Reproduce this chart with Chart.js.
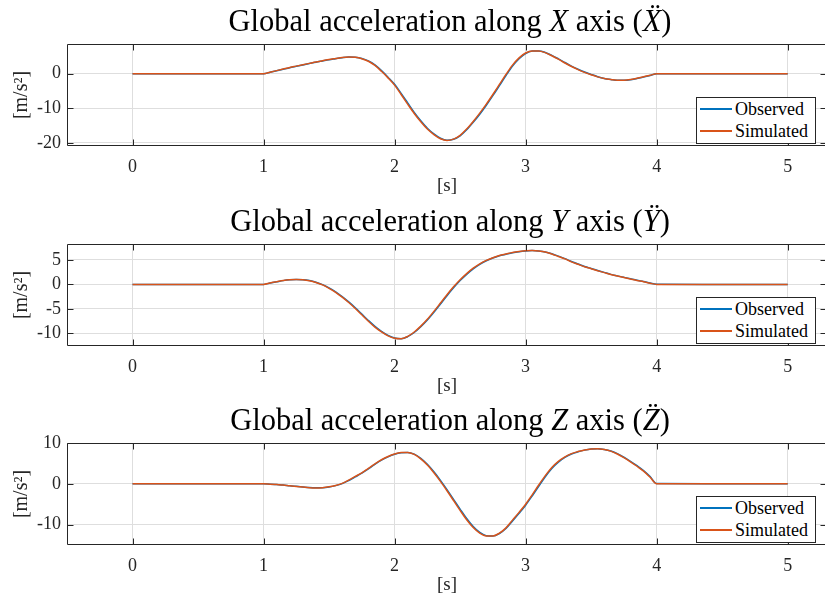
<!DOCTYPE html>
<html>
<head>
<meta charset="utf-8">
<script src="https://cdn.jsdelivr.net/npm/chart.js@4.4.1/dist/chart.umd.min.js"></script>
<style>
  body { margin: 0; width: 825px; height: 597px; overflow: hidden; background: #fff; position: relative; font-family: 'Liberation Serif', serif; }
  .panel { position: absolute; left: 0; width: 830px; height: 200px; }
  .panel canvas { position: absolute; left: 0; top: 0; }
  .title { position: absolute; left: 67px; width: 766px; top: 6px; text-align: center; font-size: 30.5px; line-height: 1; color: #000; white-space: nowrap; }
  .legend { position: absolute; left: 696px; top: 97px; width: 118px; height: 45px; border: 1px solid #262626; background: #fff; font-size: 18px; color: #000; }
  .legend div { height: 22px; display: flex; align-items: center; }
  .legend .ln { display: inline-block; width: 32px; height: 1.6px; margin: 0 3px 0 3px; }
</style>
</head>
<body>
<div class="panel" style="top:0px">
  <canvas id="chartX" width="830" height="200"></canvas>
  <div class="title">Global acceleration along <i>X</i> axis (<i>X&#776;</i>)</div>
  <div class="legend"><div><span class="ln" style="background:#0072BD"></span>Observed</div><div><span class="ln" style="background:#D95319"></span>Simulated</div></div>
</div>
<div class="panel" style="top:200px">
  <canvas id="chartY" width="830" height="200"></canvas>
  <div class="title">Global acceleration along <i>Y</i> axis (<i>Y&#776;</i>)</div>
  <div class="legend"><div><span class="ln" style="background:#0072BD"></span>Observed</div><div><span class="ln" style="background:#D95319"></span>Simulated</div></div>
</div>
<div class="panel" style="top:399px">
  <canvas id="chartZ" width="830" height="200"></canvas>
  <div class="title">Global acceleration along <i>Z</i> axis (<i>Z&#776;</i>)</div>
  <div class="legend"><div><span class="ln" style="background:#0072BD"></span>Observed</div><div><span class="ln" style="background:#D95319"></span>Simulated</div></div>
</div>

<script>
// time [s]
const timeS = [0, 0.5,
  1.00, 1.05, 1.10, 1.15, 1.20, 1.25, 1.30, 1.35, 1.40, 1.45,
  1.50, 1.55, 1.60, 1.65, 1.70, 1.75, 1.80, 1.85, 1.90, 1.95,
  2.00, 2.05, 2.10, 2.15, 2.20, 2.25, 2.30, 2.35, 2.40, 2.45,
  2.50, 2.55, 2.60, 2.65, 2.70, 2.75, 2.80, 2.85, 2.90, 2.95,
  3.00, 3.05, 3.10, 3.15, 3.20, 3.25, 3.30, 3.35, 3.40, 3.45,
  3.50, 3.55, 3.60, 3.65, 3.70, 3.75, 3.80, 3.85, 3.90, 3.95,
  4.00, 4.5, 5.0];

// X acceleration [m/s^2]
const accXSimulated = [0, 0,
  0, 0.45, 0.9, 1.35, 1.8, 2.2, 2.6, 3.0, 3.4, 3.75,
  4.1, 4.4, 4.7, 4.85, 4.75, 4.35, 3.6, 2.4, 0.7, -1.2,
  -3.3, -6.0, -8.8, -11.5, -13.9, -16.0, -17.6, -18.8, -19.3, -18.9,
  -17.8, -16.0, -13.8, -11.4, -8.8, -6.0, -3.1, -0.2, 2.5, 4.6,
  6.0, 6.6, 6.6, 6.1, 5.2, 4.2, 3.1, 2.1, 1.2, 0.4,
  -0.3, -0.9, -1.4, -1.7, -1.9, -1.9, -1.7, -1.3, -0.9, -0.45,
  0, 0, 0];
const accXObserved = [0, 0,
  0, 0.4, 0.85, 1.3, 1.75, 2.15, 2.55, 2.95, 3.35, 3.7,
  4.05, 4.35, 4.65, 4.83, 4.76, 4.4, 3.7, 2.55, 0.9, -1.0,
  -3.05, -5.7, -8.45, -11.2, -13.6, -15.75, -17.4, -18.65, -19.25, -18.95,
  -17.95, -16.2, -14.05, -11.7, -9.1, -6.35, -3.45, -0.55, 2.2, 4.35,
  5.85, 6.55, 6.6, 6.15, 5.3, 4.3, 3.25, 2.2, 1.3, 0.5,
  -0.2, -0.85, -1.35, -1.65, -1.9, -1.9, -1.75, -1.35, -0.95, -0.5,
  0, 0, 0];

// Y acceleration [m/s^2]
const accYSimulated = [0, 0,
  0, 0.3, 0.55, 0.8, 0.95, 1.0, 0.95, 0.75, 0.4, -0.1,
  -0.8, -1.6, -2.6, -3.7, -4.9, -6.2, -7.5, -8.7, -9.7, -10.5,
  -11.0, -11.1, -10.6, -9.7, -8.5, -7.1, -5.5, -3.8, -2.1, -0.5,
  0.95, 2.2, 3.3, 4.2, 4.9, 5.45, 5.9, 6.2, 6.5, 6.7,
  6.85, 6.9, 6.8, 6.6, 6.2, 5.7, 5.2, 4.6, 4.1, 3.6,
  3.2, 2.8, 2.4, 2.0, 1.7, 1.4, 1.1, 0.8, 0.55, 0.25,
  0, 0, 0];
const accYObserved = [0, 0,
  0, 0.27, 0.52, 0.77, 0.93, 1.0, 0.96, 0.78, 0.45, -0.04,
  -0.72, -1.5, -2.48, -3.57, -4.76, -6.05, -7.35, -8.56, -9.58, -10.4,
  -10.94, -11.09, -10.66, -9.81, -8.64, -7.27, -5.7, -4.0, -2.3, -0.7,
  0.78, 2.05, 3.17, 4.1, 4.82, 5.38, 5.85, 6.16, 6.46, 6.68,
  6.83, 6.89, 6.81, 6.62, 6.25, 5.76, 5.26, 4.67, 4.16, 3.66,
  3.25, 2.85, 2.45, 2.05, 1.74, 1.44, 1.14, 0.84, 0.58, 0.29,
  0.03, 0, 0];

// Z acceleration [m/s^2]
const accZSimulated = [0, 0,
  0, -0.1, -0.2, -0.3, -0.5, -0.65, -0.8, -0.95, -1.0, -0.95,
  -0.75, -0.4, 0.1, 0.9, 1.8, 2.7, 3.8, 4.9, 5.9, 6.7,
  7.3, 7.65, 7.7, 7.2, 6.1, 4.6, 2.7, 0.6, -1.7, -4.1,
  -6.5, -8.8, -10.7, -12.1, -12.8, -12.8, -12.1, -10.8, -8.9, -7.0,
  -5.0, -2.7, -0.3, 2.0, 4.0, 5.5, 6.6, 7.4, 7.9, 8.3,
  8.55, 8.6, 8.4, 8.0, 7.3, 6.4, 5.4, 4.3, 3.1, 1.6,
  0, 0, 0];
const accZObserved = [0, 0,
  0, -0.09, -0.19, -0.29, -0.48, -0.63, -0.78, -0.93, -0.99, -0.96,
  -0.78, -0.45, 0.04, 0.8, 1.69, 2.59, 3.67, 4.77, 5.78, 6.6,
  7.23, 7.61, 7.69, 7.26, 6.23, 4.78, 2.93, 0.85, -1.42, -3.81,
  -6.21, -8.52, -10.47, -11.93, -12.72, -12.8, -12.18, -10.95, -9.12, -7.23,
  -5.24, -2.98, -0.59, 1.74, 3.76, 5.32, 6.47, 7.3, 7.84, 8.25,
  8.52, 8.59, 8.42, 8.05, 7.38, 6.51, 5.52, 4.43, 3.24, 1.78,
  0.05, 0, 0];

// tick labels
const xTicks = [0, 1, 2, 3, 4, 5];
const yTicksX = [-20, -10, 0];
const yTicksY = [-10, -5, 0, 5];
const yTicksZ = [-10, 0, 10];

const serif = "'Liberation Serif', serif";
const axisColor = '#262626';

// MATLAB-like box with inward ticks
const boxPlugin = {
  id: 'matlabBox',
  afterDatasetsDraw(chart) {
    const { ctx, chartArea: a, scales } = chart;
    const l = Math.round(a.left) + 0.5;
    const t = Math.round(a.top) + 0.5;
    const b = Math.round(a.bottom) - 0.5;
    const r = Math.round(a.right) - 0.5;
    ctx.save();
    ctx.strokeStyle = axisColor;
    ctx.lineWidth = 1;
    ctx.beginPath();
    ctx.moveTo(r, t); ctx.lineTo(l, t); ctx.lineTo(l, b); ctx.lineTo(r, b); ctx.lineTo(r, t);
    scales.x.ticks.forEach((tk) => {
      const px = Math.round(scales.x.getPixelForValue(tk.value)) + 0.5;
      ctx.moveTo(px, t); ctx.lineTo(px, t + 6);
      ctx.moveTo(px, b); ctx.lineTo(px, b - 6);
    });
    scales.y.ticks.forEach((tk) => {
      const py = Math.round(scales.y.getPixelForValue(tk.value)) + 0.5;
      ctx.moveTo(l, py); ctx.lineTo(l + 6, py);
      ctx.moveTo(r, py); ctx.lineTo(r - 6, py);
    });
    ctx.stroke();
    ctx.restore();
  }
};

function toPoints(values) {
  return timeS.map((t, i) => ({ x: t, y: values[i] }));
}

function makeChart(id, observed, simulated, yTicks, yMin, yMax) {
  return new Chart(document.getElementById(id), {
    type: 'line',
    data: {
      datasets: [
        { label: 'Observed', data: toPoints(observed), borderColor: '#0072BD', order: 2 },
        { label: 'Simulated', data: toPoints(simulated), borderColor: '#D95319', order: 1 },
      ],
    },
    options: {
      responsive: false,
      animation: false,
      layout: { padding: { top: 44, right: 3, left: 0, bottom: 0 } },
      elements: {
        point: { radius: 0 },
        line: { borderWidth: 1.5, cubicInterpolationMode: 'monotone', fill: false },
      },
      plugins: { legend: { display: false }, tooltip: { enabled: false } },
      scales: {
        x: {
          type: 'linear',
          min: -0.5,
          max: 5.3,
          afterBuildTicks: (s) => { s.ticks = xTicks.map((v) => ({ value: v })); },
          afterFit: (s) => { s.height = 54; },
          grid: { color: '#dedede', drawTicks: false },
          border: { display: false },
          ticks: { padding: 10, color: axisColor, font: { family: serif, size: 18 }, callback: (v) => String(v) },
          title: { display: true, text: '[s]', color: axisColor, font: { family: serif, size: 19 }, padding: { top: 0, bottom: 3 } },
        },
        y: {
          type: 'linear',
          min: yMin,
          max: yMax,
          afterBuildTicks: (s) => { s.ticks = yTicks.map((v) => ({ value: v })); },
          afterFit: (s) => { s.width = 67; },
          grid: { color: '#dedede', drawTicks: false },
          border: { display: false },
          ticks: { padding: 6, color: axisColor, font: { family: serif, size: 18 }, callback: (v) => String(v) },
          title: { display: true, text: '[m/s²]', color: axisColor, font: { family: serif, size: 20 }, padding: { top: 10, bottom: 0 } },
        },
      },
    },
    plugins: [boxPlugin],
  });
}

makeChart('chartX', accXObserved, accXSimulated, yTicksX, -20.9, 8.6);
makeChart('chartY', accYObserved, accYSimulated, yTicksY, -12.56, 8.24);
makeChart('chartZ', accZObserved, accZSimulated, yTicksZ, -15, 10);
</script>
</body>
</html>
